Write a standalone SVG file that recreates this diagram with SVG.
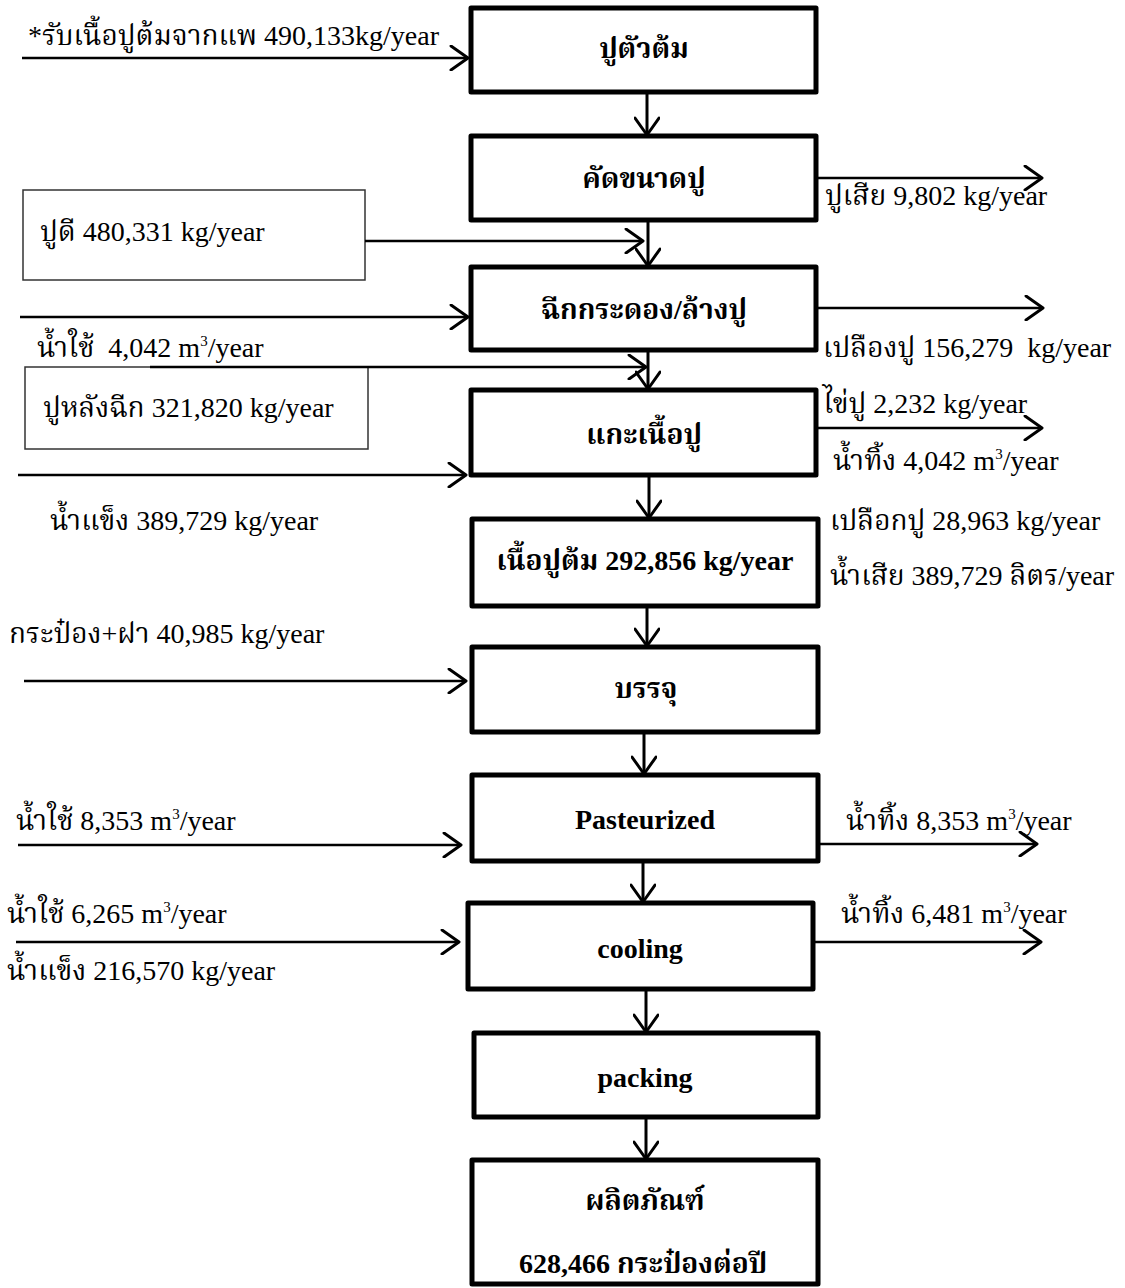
<svg xmlns="http://www.w3.org/2000/svg" width="1125" height="1288" viewBox="0 0 1125 1288">
  <style>
    text { font-family: "Liberation Serif", "Noto Serif Thai", "Noto Sans Thai", "DejaVu Serif", serif; font-size: 28px; fill: #000; }
    .step rect { fill: #fff; stroke: #000; stroke-width: 5; stroke-linejoin: round; }
    .step text { font-weight: bold; text-anchor: middle; }
    .note rect { fill: #fff; stroke: #333; stroke-width: 1.5; }
    .flow { stroke: #000; stroke-width: 3; fill: none; marker-end: url(#head); }
    .feed { stroke: #000; stroke-width: 2.5; fill: none; marker-end: url(#head); }
    .sup { font-size: 15px; }
  </style>
  <defs>
    <marker id="head" viewBox="0 0 26 26" refX="21" refY="13" markerWidth="26" markerHeight="26" markerUnits="userSpaceOnUse" orient="auto">
      <path d="M4,1 L21,13 L4,25" fill="none" stroke="#000" stroke-width="3" stroke-linecap="round" stroke-linejoin="round"/>
    </marker>
  </defs>

  <rect width="1125" height="1288" fill="#fff"/>

  <!-- side notes with a thin frame -->
  <g id="note-good-crab" class="note">
    <rect x="23" y="190" width="342" height="90"/>
    <text x="40" y="241">ปูดี 480,331 kg/year</text>
  </g>
  <g id="note-peeled-crab" class="note">
    <rect x="25" y="367" width="343" height="82"/>
    <text x="43" y="417">ปูหลังฉีก 321,820 kg/year</text>
  </g>

  <!-- connectors -->
  <g id="connectors">
    <!-- main process chain -->
    <line class="flow" x1="647" y1="92" x2="647" y2="135"/>
    <line class="flow" x1="648" y1="220" x2="648" y2="266"/>
    <line class="flow" x1="648" y1="350" x2="648" y2="389"/>
    <line class="flow" x1="649" y1="475" x2="649" y2="518"/>
    <line class="flow" x1="647" y1="607" x2="647" y2="646"/>
    <line class="flow" x1="644" y1="732" x2="644" y2="774"/>
    <line class="flow" x1="643" y1="861" x2="643" y2="902"/>
    <line class="flow" x1="646" y1="989" x2="646" y2="1032"/>
    <line class="flow" x1="646" y1="1117" x2="646" y2="1159"/>

    <!-- inputs from the left -->
    <line class="feed" x1="22" y1="58" x2="468" y2="58"/>
    <line class="feed" x1="365" y1="241" x2="643" y2="241"/>
    <line class="feed" x1="20" y1="317" x2="468" y2="317"/>
    <line class="feed" x1="150" y1="367" x2="646" y2="367"/>
    <line class="feed" x1="18" y1="475" x2="466" y2="475"/>
    <line class="feed" x1="24" y1="681" x2="466" y2="681"/>
    <line class="feed" x1="18" y1="845" x2="461" y2="845"/>
    <line class="feed" x1="16" y1="942" x2="459" y2="942"/>

    <!-- outputs to the right -->
    <line class="feed" x1="816" y1="178" x2="1042" y2="178"/>
    <line class="feed" x1="816" y1="308" x2="1043" y2="308"/>
    <line class="feed" x1="815" y1="428" x2="1042" y2="428"/>
    <line class="feed" x1="810" y1="844" x2="1037" y2="844"/>
    <line class="feed" x1="814" y1="942" x2="1041" y2="942"/>
  </g>

  <!-- process steps -->
  <g id="step-boiled-crab" class="step">
    <rect x="471" y="8" width="345" height="84"/>
    <text x="644" y="58">ปูตัวต้ม</text>
  </g>
  <g id="step-sorting" class="step">
    <rect x="471" y="136" width="345" height="84"/>
    <text x="644" y="188">คัดขนาดปู</text>
  </g>
  <g id="step-shelling" class="step">
    <rect x="471" y="267" width="345" height="83"/>
    <text x="644" y="319">ฉีกกระดอง/ล้างปู</text>
  </g>
  <g id="step-picking" class="step">
    <rect x="471" y="390" width="345" height="85"/>
    <text x="644" y="444">แกะเนื้อปู</text>
  </g>
  <g id="step-crabmeat" class="step">
    <rect x="472" y="519" width="346" height="87"/>
    <text x="645" y="570">เนื้อปูต้ม 292,856 kg/year</text>
  </g>
  <g id="step-filling" class="step">
    <rect x="472" y="647" width="346" height="85"/>
    <text x="646" y="698">บรรจุ</text>
  </g>
  <g id="step-pasteurized" class="step">
    <rect x="472" y="775" width="346" height="86"/>
    <text x="645" y="829">Pasteurized</text>
  </g>
  <g id="step-cooling" class="step">
    <rect x="468" y="903" width="345" height="86"/>
    <text x="640" y="958">cooling</text>
  </g>
  <g id="step-packing" class="step">
    <rect x="474" y="1033" width="344" height="84"/>
    <text x="645" y="1087">packing</text>
  </g>
  <g id="step-product" class="step">
    <rect x="472" y="1160" width="346" height="124"/>
    <text x="645" y="1210">ผลิตภัณฑ์</text>
    <text x="643" y="1273">628,466 กระป๋องต่อปี</text>
  </g>

  <!-- input labels -->
  <g id="input-labels">
    <text x="28" y="45">*รับเนื้อปูต้มจากแพ 490,133kg/year</text>
    <text x="37" y="357" xml:space="preserve">น้ำใช้  4,042 m<tspan class="sup" dy="-11">3</tspan><tspan dy="11">/year</tspan></text>
    <text x="50" y="530">น้ำแข็ง 389,729 kg/year</text>
    <text x="9" y="643">กระป๋อง+ฝา 40,985 kg/year</text>
    <text x="16" y="830">น้ำใช้ 8,353 m<tspan class="sup" dy="-11">3</tspan><tspan dy="11">/year</tspan></text>
    <text x="7" y="923">น้ำใช้ 6,265 m<tspan class="sup" dy="-11">3</tspan><tspan dy="11">/year</tspan></text>
    <text x="7" y="980">น้ำแข็ง 216,570 kg/year</text>
  </g>

  <!-- output labels -->
  <g id="output-labels">
    <text x="825" y="205">ปูเสีย 9,802 kg/year</text>
    <text x="823" y="357" xml:space="preserve">เปลืองปู 156,279  kg/year</text>
    <text x="823" y="413">ไข่ปู 2,232 kg/year</text>
    <text x="833" y="470">น้ำทิ้ง 4,042 m<tspan class="sup" dy="-11">3</tspan><tspan dy="11">/year</tspan></text>
    <text x="830" y="530">เปลือกปู 28,963 kg/year</text>
    <text x="830" y="585">น้ำเสีย 389,729 ลิตร/year</text>
    <text x="846" y="830">น้ำทิ้ง 8,353 m<tspan class="sup" dy="-11">3</tspan><tspan dy="11">/year</tspan></text>
    <text x="841" y="923">น้ำทิ้ง 6,481 m<tspan class="sup" dy="-11">3</tspan><tspan dy="11">/year</tspan></text>
  </g>
</svg>
